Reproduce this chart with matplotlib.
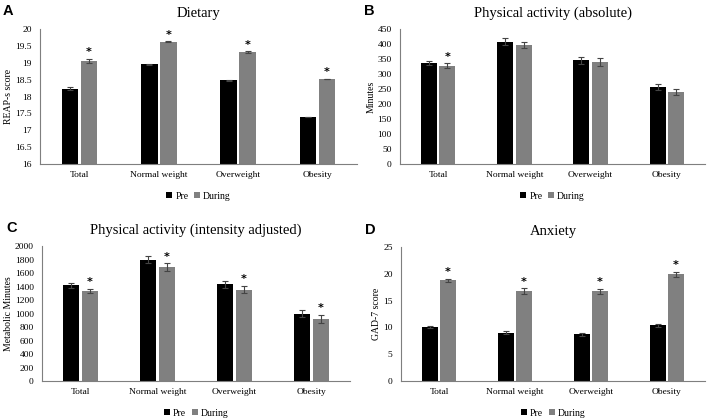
import matplotlib.pyplot as plt
import numpy as np

groups = ['Total', 'Normal weight', 'Overweight', 'Obesity']

# panel A - Dietary (REAP-s score)
diet_pre = [18.23, 18.95, 18.48, 17.39]
diet_during = [19.05, 19.62, 19.31, 18.52]
diet_pre_err = [0.04, 0.01, 0.01, 0.01]
diet_during_err = [0.06, 0.02, 0.03, 0.01]
diet_star = [True, True, True, True]

# panel B - Physical activity (absolute), minutes
pa_pre = [337, 408, 345, 255]
pa_during = [328, 397, 340, 240]
pa_pre_err = [7, 11, 11, 10]
pa_during_err = [7, 11, 13, 10]
pa_star = [True, False, False, False]

# panel C - Physical activity (intensity adjusted), metabolic minutes
pai_pre = [1415, 1800, 1430, 1000]
pai_during = [1335, 1690, 1355, 920]
pai_pre_err = [30, 45, 55, 50]
pai_during_err = [35, 55, 55, 60]
pai_star = [True, True, True, True]

# panel D - Anxiety (GAD-7 score)
anx_pre = [10.0, 9.0, 8.7, 10.4]
anx_during = [18.8, 16.8, 16.7, 19.9]
anx_pre_err = [0.2, 0.3, 0.3, 0.3]
anx_during_err = [0.3, 0.5, 0.5, 0.5]
anx_star = [True, True, True, True]

serif = ['Liberation Serif', 'DejaVu Serif']
plt.rcParams['font.family'] = serif

fig = plt.figure(figsize=(7.09, 4.19), dpi=100)
W, H = 709, 419

panels = [
    ('A', 'Dietary', 'REAP-s score', diet_pre, diet_during, diet_pre_err, diet_during_err,
     diet_star, (16, 20), 0.5, [40, 29, 357, 164]),
    ('B', 'Physical activity (absolute)', 'Minutes', pa_pre, pa_during, pa_pre_err, pa_during_err,
     pa_star, (0, 450), 50, [400, 29, 705, 164]),
    ('C', 'Physical activity (intensity adjusted)', 'Metabolic Minutes', pai_pre, pai_during,
     pai_pre_err, pai_during_err, pai_star, (0, 2000), 200, [42, 246, 350, 381]),
    ('D', 'Anxiety', 'GAD-7 score', anx_pre, anx_during, anx_pre_err, anx_during_err,
     anx_star, (0, 25), 5, [401, 247, 705, 381]),
]

x = np.arange(len(groups))
bw = 0.21
for letter, title, ylabel, pre, dur, pre_e, dur_e, star, ylim, step, box in panels:
    x0, y0, x1, y1 = box
    ax = fig.add_axes([x0 / W, 1 - y1 / H, (x1 - x0) / W, (y1 - y0) / H])
    ekw = dict(ecolor='#444444', elinewidth=0.8, capsize=2.5, capthick=0.8)
    ax.bar(x - bw / 2 - 0.015, pre, bw, yerr=pre_e, color='black', label='Pre',
           error_kw=ekw, zorder=2)
    ax.bar(x + bw / 2 + 0.015, dur, bw, yerr=dur_e, color='#808080', label='During',
           error_kw=ekw, zorder=2)
    span = ylim[1] - ylim[0]
    for i, s in enumerate(star):
        if s:
            ax.text(x[i] + bw / 2 + 0.015, dur[i] + dur_e[i] + span * 0.012, '*',
                    ha='center', va='bottom', fontsize=8, fontweight='bold',
                    family=['DejaVu Sans'])
    ax.set_xlim(-0.5, 3.5)
    ax.set_ylim(*ylim)
    ticks = np.arange(ylim[0], ylim[1] + step / 2, step)
    ax.set_yticks(ticks)
    ax.set_yticklabels([f'{t:g}' for t in ticks], fontsize=6.8)
    ax.set_xticks(x)
    ax.set_xticklabels(groups, fontsize=6.8)
    ax.tick_params(axis='x', length=0, pad=5)
    ax.tick_params(axis='y', length=0, pad=6)
    for side in ['top', 'right']:
        ax.spines[side].set_visible(False)
    for side in ['left', 'bottom']:
        ax.spines[side].set_color('#7f7f7f')
        ax.spines[side].set_linewidth(0.8)
    ax.set_ylabel(ylabel, fontsize=7, labelpad=1.5)
    ax.set_title(title, fontsize=10.5, pad=9)
    ax.text(-0.1, 1.13, letter, transform=ax.transAxes, fontsize=10.5, fontweight='bold',
            family=['Liberation Sans', 'DejaVu Sans'], ha='center', va='center')
    ax.legend(loc='upper center', bbox_to_anchor=(0.5, -0.14), ncol=2, frameon=False,
              fontsize=7, handlelength=0.6, handleheight=0.6, handletextpad=0.3,
              columnspacing=0.6)

fig.savefig('out.png', dpi=100)
